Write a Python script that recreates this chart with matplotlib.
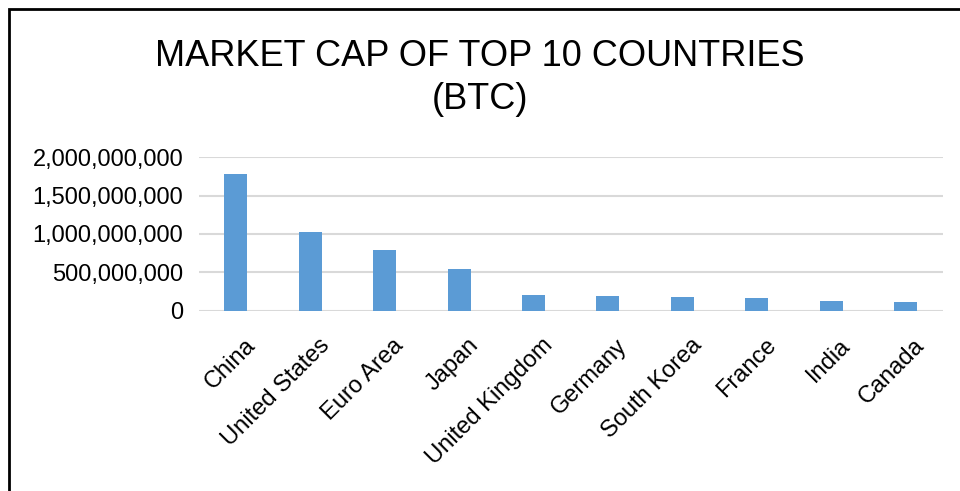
import matplotlib.pyplot as plt
from matplotlib.ticker import FuncFormatter
from matplotlib.patches import Rectangle
from matplotlib.transforms import ScaledTranslation

countries = ["China", "United States", "Euro Area", "Japan", "United Kingdom",
             "Germany", "South Korea", "France", "India", "Canada"]
market_cap = [1.78e9, 1.03e9, 0.79e9, 0.54e9, 0.21e9,
              0.19e9, 0.185e9, 0.165e9, 0.127e9, 0.113e9]
y_ticks = [0, 500000000, 1000000000, 1500000000, 2000000000]

plt.rcParams['font.family'] = ['Liberation Sans', 'DejaVu Sans']

fig = plt.figure(figsize=(9.6, 4.91), dpi=100)
ax = fig.add_axes([0.207, 0.367, 0.775, 0.313])

ax.bar(range(len(countries)), market_cap, width=0.31, color='#5B9BD5', zorder=3)
ax.set_xlim(-0.5, len(countries) - 0.5)
ax.set_ylim(0, 2e9)
ax.set_yticks(y_ticks)
ax.yaxis.set_major_formatter(FuncFormatter(lambda v, p: f"{int(v):,}"))
ax.set_xticks(range(len(countries)))
ax.set_xticklabels(countries, rotation=45, ha='right', rotation_mode='anchor')
ax.tick_params(axis='both', length=0, labelsize=17, colors='black')
ax.tick_params(axis='y', pad=11)
ax.tick_params(axis='x', pad=17)
# labels sit a little to the right of the bars in the original
shift = ScaledTranslation(8 / 100, 0, fig.dpi_scale_trans)
for lbl in ax.get_xticklabels():
    lbl.set_transform(lbl.get_transform() + shift)
ax.grid(axis='y', color='#D9D9D9', linewidth=1.5, zorder=0)
for s in ax.spines.values():
    s.set_visible(False)

fig.text(0.5, 0.842, "MARKET CAP OF TOP 10 COUNTRIES\n(BTC)", ha='center', va='center',
         fontsize=26, linespacing=1.3)

# frame around the chart, cut off at right and bottom like the screenshot
fig.patches.append(Rectangle((9 / 960, -0.1), 1.2, 1 - 9 / 491 + 0.1, transform=fig.transFigure,
                             fill=False, edgecolor='black', linewidth=2))

fig.savefig("out.png", dpi=100)
